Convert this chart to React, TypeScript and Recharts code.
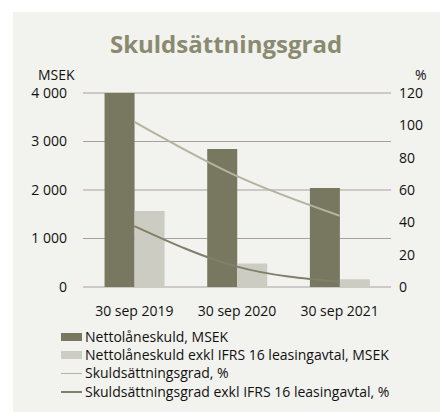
import {
  ComposedChart,
  Bar,
  Line,
  XAxis,
  YAxis,
  CartesianGrid,
  Legend,
} from "recharts";

const categories = ["30 sep 2019", "30 sep 2020", "30 sep 2021"];
const nettoLaneskuld = [4000, 2843, 2042];
const nettoExklIfrs = [1566, 484, 159];
const skuldGrad = [102.2, 68.6, 44.1];
const skuldGradExkl = [37.7, 12.6, 3.3];

const seriesNames = [
  "Nettolåneskuld, MSEK",
  "Nettolåneskuld exkl IFRS 16 leasingavtal, MSEK",
  "Skuldsättningsgrad, %",
  "Skuldsättningsgrad exkl IFRS 16 leasingavtal, %",
];

const leftTicks = [0, 1000, 2000, 3000, 4000];
const rightTicks = [0, 20, 40, 60, 80, 100, 120];

const FONT = "'Open Sans', sans-serif";
const DARK = "#78775f";
const LIGHT = "#cdccc3";
const LINE1 = "#b3b39f";
const LINE2 = "#80806a";
const GRID = "#a8a09c";

const data = categories.map((c, i) => ({
  name: c,
  netto: nettoLaneskuld[i],
  nettoExkl: nettoExklIfrs[i],
  grad: skuldGrad[i],
  gradExkl: skuldGradExkl[i],
}));

const fmt = (v: number) => String(v).replace(/\B(?=(\d{3})+(?!\d))/g, " ");

interface LegendItem {
  value?: string;
  color?: string;
  type?: string;
}

function LegendContent({ payload }: { payload?: LegendItem[] }) {
  if (!payload) return null;
  const items = [...payload].sort(
    (a, b) => seriesNames.indexOf(a.value ?? "") - seriesNames.indexOf(b.value ?? "")
  );
  return (
    <div style={{ fontFamily: FONT, fontSize: 14, color: "#111", lineHeight: "18.4px" }}>
      {items.map((p) => (
        <div key={p.value} style={{ display: "flex", alignItems: "center", whiteSpace: "nowrap" }}>
          {p.type === "rect" ? (
            <span style={{ width: 21, height: 8, background: p.color, marginRight: 3 }} />
          ) : (
            <span style={{ width: 21, height: 1.5, background: p.color, marginRight: 3 }} />
          )}
          <span>{p.value}</span>
        </div>
      ))}
    </div>
  );
}

export default function App() {
  return (
    <div style={{ position: "fixed", left: 0, top: 0, width: 440, height: 412, background: "#fff" }}>
      <div style={{ position: "absolute", left: 13, top: 12, right: 0, bottom: 0, background: "#f2f2ee" }} />
      <div
        style={{
          position: "absolute",
          left: 0,
          width: 452,
          top: 27,
          textAlign: "center",
          fontFamily: FONT,
          fontWeight: 700,
          fontSize: 24,
          color: "#8a8a70",
        }}
      >
        Skuldsättningsgrad
      </div>
      <div style={{ position: "absolute", left: 38, top: 68, fontFamily: FONT, fontSize: 14, color: "#111", lineHeight: "14px" }}>
        MSEK
      </div>
      <div style={{ position: "absolute", left: 415, top: 68, fontFamily: FONT, fontSize: 14, color: "#111", lineHeight: "14px" }}>
        %
      </div>
      <div style={{ position: "absolute", left: 0, top: 0 }}>
        <ComposedChart
          width={440}
          height={412}
          data={data}
          margin={{ top: 93, right: 9, bottom: 100, left: 23 }}
          barCategoryGap="21%"
          barGap={0}
        >
          <CartesianGrid vertical={false} stroke={GRID} yAxisId="left" />
          <XAxis
            dataKey="name"
            axisLine={false}
            tickLine={false}
            height={25}
            tick={{ fill: "#111", fontSize: 14, fontFamily: FONT }}
            tickMargin={13}
          />
          <YAxis
            yAxisId="left"
            width={60}
            domain={[0, 4000]}
            ticks={leftTicks}
            allowDataOverflow
            axisLine={false}
            tickLine={false}
            tickMargin={10}
            tickFormatter={fmt}
            tick={{ fill: "#111", fontSize: 14, fontFamily: FONT }}
          />
          <YAxis
            yAxisId="right"
            orientation="right"
            width={40}
            domain={[0, 120]}
            ticks={rightTicks}
            axisLine={false}
            tickLine={false}
            tickMargin={2}
            tick={{ fill: "#111", fontSize: 14, fontFamily: FONT, textAnchor: "start" }}
          />
          <Bar
            yAxisId="left"
            dataKey="netto"
            name={seriesNames[0]}
            fill={DARK}
            legendType="rect"
            isAnimationActive={false}
          />
          <Bar
            yAxisId="left"
            dataKey="nettoExkl"
            name={seriesNames[1]}
            fill={LIGHT}
            legendType="rect"
            isAnimationActive={false}
          />
          <Line
            yAxisId="right"
            type="monotone"
            dataKey="grad"
            name={seriesNames[2]}
            stroke={LINE1}
            strokeWidth={2}
            dot={false}
            legendType="line"
            isAnimationActive={false}
          />
          <Line
            yAxisId="right"
            type="monotone"
            dataKey="gradExkl"
            name={seriesNames[3]}
            stroke={LINE2}
            strokeWidth={2}
            dot={false}
            legendType="line"
            isAnimationActive={false}
          />
          <Legend
            layout="vertical"
            verticalAlign="middle"
            align="center"
            content={<LegendContent />}
            wrapperStyle={{ left: 61, top: 327.5, width: 370 }}
          />
        </ComposedChart>
      </div>
    </div>
  );
}
